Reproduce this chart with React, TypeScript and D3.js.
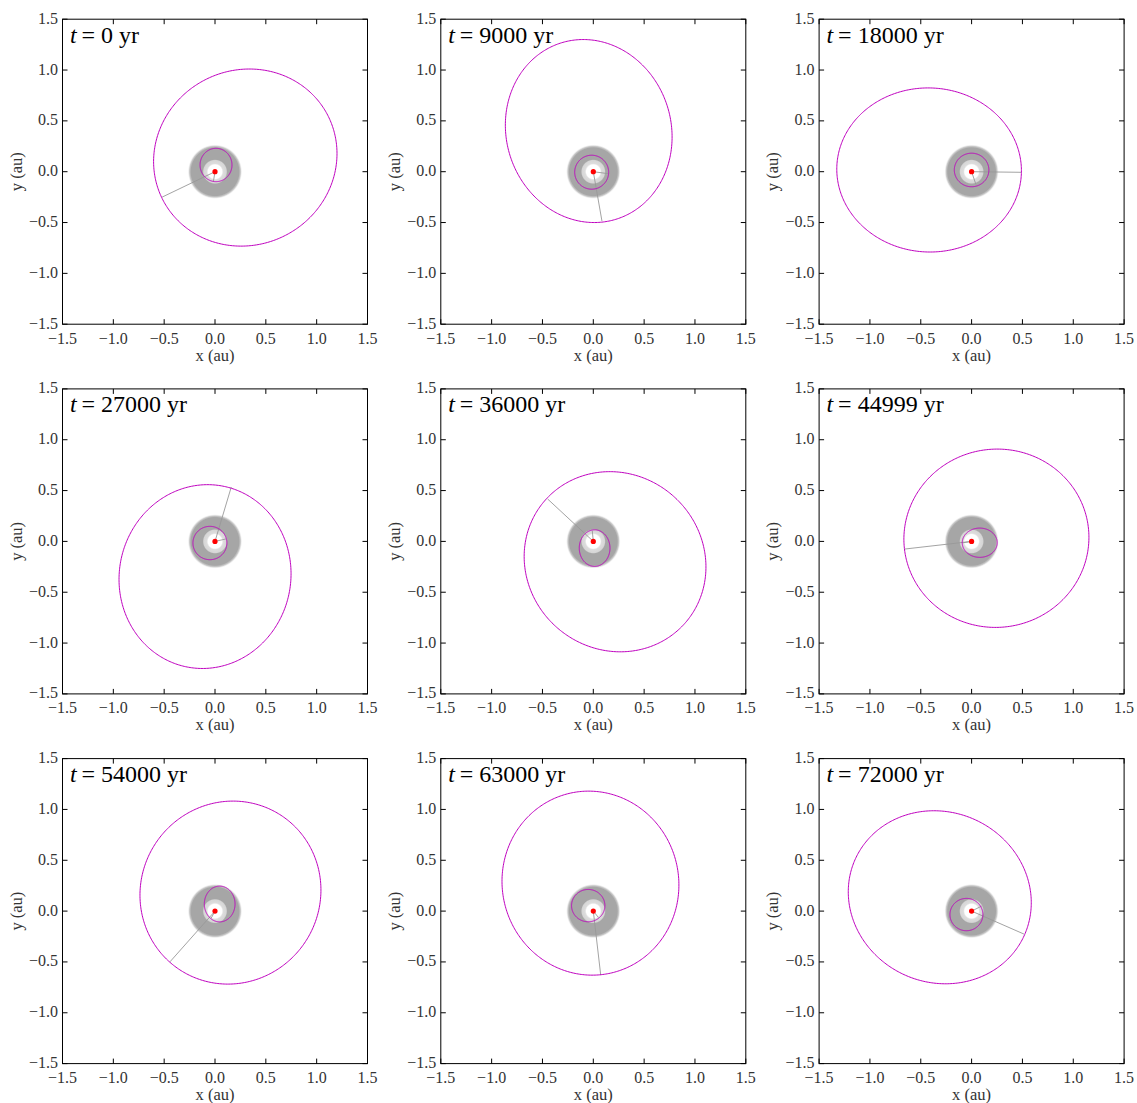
import React from 'react'
import { scaleLinear, line, range } from 'd3'

// snapshot times (yr)
const times = ['0', '9000', '18000', '27000', '36000', '44999', '54000', '63000', '72000']

// outer orbit: centre, half extents, skew (k = cos of phase lag between x and y)
const outerCx = [0.298, -0.045, -0.418, -0.098, 0.214, 0.244, 0.152, -0.028, -0.313]
const outerCy = [0.139, 0.40, 0.017, -0.346, -0.20, 0.031, 0.182, 0.275, 0.136]
const outerW = [0.902, 0.82, 0.908, 0.846, 0.894, 0.91, 0.89, 0.87, 0.90]
const outerH = [0.871, 0.90, 0.807, 0.904, 0.886, 0.877, 0.90, 0.905, 0.851]
const outerK = [0.045, -0.065, -0.01, 0.03, -0.058, 0.01, 0.028, -0.02, -0.063]

// inner orbit
const innerCx = [0.01, -0.016, 0.0, -0.05, 0.013, 0.08, 0.046, -0.05, -0.051]
const innerCy = [0.066, -0.005, 0.017, -0.016, -0.066, -0.013, 0.07, 0.054, -0.034]
const innerW = [0.157, 0.167, 0.17, 0.167, 0.151, 0.172, 0.151, 0.164, 0.162]
const innerH = [0.164, 0.167, 0.165, 0.164, 0.18, 0.144, 0.176, 0.159, 0.159]

// current planet positions (au)
const outerPosX = [-0.52, 0.085, 0.49, 0.16, -0.449, -0.656, -0.443, 0.073, 0.515]
const outerPosY = [-0.25, -0.485, -0.006, 0.535, 0.417, -0.075, -0.499, -0.63, -0.226]
const innerPosX = [-0.016, 0.15, 0.042, 0.108, -0.01, -0.082, -0.039, 0.05, 0.098]
const innerPosY = [-0.098, -0.02, -0.124, 0.024, 0.105, -0.013, -0.072, -0.062, 0.049]

const tickValues = [-1.5, -1.0, -0.5, 0.0, 0.5, 1.0, 1.5]
const tickLabels = ['\u22121.5', '\u22121.0', '\u22120.5', '0.0', '0.5', '1.0', '1.5']

const width = 1137
const height = 1103
const size = 305
const colStep = 378.3
const rowStep = 369.7
const left0 = 62.5
const top0 = 19.2
const font = '"Liberation Serif", "DejaVu Serif", serif'
const magenta = '#bf00bf'

function ellipsePath(x, y, cx, cy, w, h, k) {
  const s = Math.sqrt(1 - k * k)
  const ts = range(0, 361).map(d => (d * Math.PI) / 180)
  return line()(ts.map(t => [x(cx + w * Math.cos(t)), y(cy + h * (k * Math.cos(t) + s * Math.sin(t)))]))
}

function Panel({ i }) {
  const col = i % 3
  const row = Math.floor(i / 3)
  const left = left0 + col * colStep
  const top = top0 + row * rowStep
  const x = scaleLinear().domain([-1.5, 1.5]).range([0, size])
  const y = scaleLinear().domain([-1.5, 1.5]).range([size, 0])
  const diskR = x(0.27) - x(0)

  return (
    <g transform={`translate(${left},${top})`}>
      <circle cx={x(0)} cy={y(0)} r={diskR} fill="url(#disk)" />
      <line x1={x(0)} y1={y(0)} x2={x(outerPosX[i])} y2={y(outerPosY[i])} stroke="#999" strokeWidth={0.9} />
      <line x1={x(0)} y1={y(0)} x2={x(innerPosX[i])} y2={y(innerPosY[i])} stroke="#999" strokeWidth={0.9} />
      <path d={ellipsePath(x, y, outerCx[i], outerCy[i], outerW[i], outerH[i], outerK[i])} fill="none" stroke={magenta} strokeWidth={1} />
      <path d={ellipsePath(x, y, innerCx[i], innerCy[i], innerW[i], innerH[i], 0)} fill="none" stroke={magenta} strokeWidth={1} />
      <circle cx={x(0)} cy={y(0)} r={2.6} fill="#ff0000" />

      <rect x={0} y={0} width={size} height={size} fill="none" stroke="#000" strokeWidth={1} />
      {tickValues.map((v, j) => (
        <g key={j}>
          <line x1={x(v)} x2={x(v)} y1={size} y2={size - 5} stroke="#000" />
          <line x1={x(v)} x2={x(v)} y1={0} y2={5} stroke="#000" />
          <line x1={0} x2={5} y1={y(v)} y2={y(v)} stroke="#000" />
          <line x1={size} x2={size - 5} y1={y(v)} y2={y(v)} stroke="#000" />
          <text x={x(v)} y={size + 19.5} textAnchor="middle" fontSize={16} fontFamily={font} fill="#333">{tickLabels[j]}</text>
          <text x={-4.5} y={y(v) + 4.5} textAnchor="end" fontSize={16} fontFamily={font} fill="#333">{tickLabels[j]}</text>
        </g>
      ))}
      <text x={size / 2} y={size + 36.5} textAnchor="middle" fontSize={16.5} fontFamily={font} fill="#333">x (au)</text>
      <text transform={`translate(-41,${size / 2}) rotate(-90)`} textAnchor="middle" fontSize={16.5} fontFamily={font} fill="#333">y (au)</text>
      <text x={7.5} y={23.5} fontSize={24} fontFamily={font} fill="#000">
        <tspan fontStyle="italic">t</tspan>
        <tspan>{'\u2009'}= {times[i]} yr</tspan>
      </text>
    </g>
  )
}

export default function App() {
  return (
    <svg width={width} height={height} style={{ position: 'absolute', left: 0, top: 0, background: '#fff' }}>
      <defs>
        <radialGradient id="disk">
          <stop offset="0%" stopColor="#fff" />
          <stop offset="25%" stopColor="#fff" />
          <stop offset="30%" stopColor="#dddddd" />
          <stop offset="41%" stopColor="#d6d6d6" />
          <stop offset="45%" stopColor="#a6a6a6" />
          <stop offset="87%" stopColor="#a6a6a6" />
          <stop offset="93%" stopColor="#cccccc" />
          <stop offset="100%" stopColor="#fff" stopOpacity={0} />
        </radialGradient>
      </defs>
      <rect width={width} height={height} fill="#fff" />
      {times.map((_, i) => <Panel key={i} i={i} />)}
    </svg>
  )
}
